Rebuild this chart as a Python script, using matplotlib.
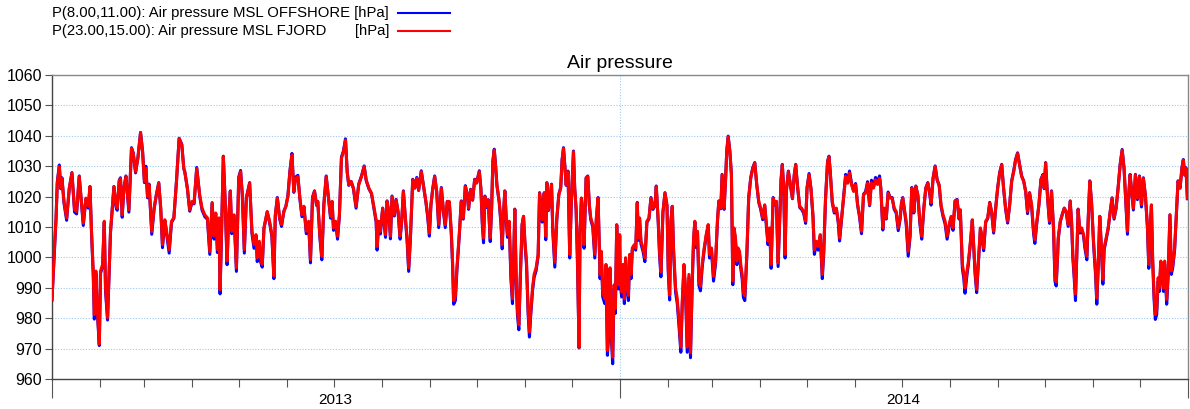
import matplotlib
matplotlib.use("Agg")
import matplotlib.pyplot as plt
import matplotlib.dates as mdates
import numpy as np
import pandas as pd
from matplotlib.lines import Line2D
from matplotlib.transforms import blended_transform_factory

plt.rcParams['font.family'] = ['Liberation Sans', 'DejaVu Sans']

# ---------------- data ----------------
start_date = "2013-01-01"
# time of each sample, days after start_date
days = [
 0.0,1.9,2.6,3.4,4.7,5.6,6.4,7.7,9.4,11.1,12.8,14.5,15.8,17.5,20.1,21.8,23.3,24.4,25.4,26.5,
 27.2,28.2,29.1,30.4,31.2,32.5,33.6,34.4,35.7,36.8,37.6,38.9,39.8,41.1,41.9,43.2,44.0,45.1,46.2,47.5,
 49.4,51.1,52.2,53.7,55.2,56.9,58.2,59.4,60.3,61.4,62.4,64.1,65.6,67.1,68.6,69.9,71.0,72.5,73.5,75.3,
 76.8,78.3,80.0,81.7,83.4,84.7,
 85.3,87.0,88.5,90.0,91.3,93.0,94.9,96.4,98.2,99.9,101.4,102.9,104.1,105.2,106.3,107.3,108.0,108.8,110.1,111.2,
 112.5,113.5,114.6,115.5,117.0,118.5,120.0,121.2,122.3,123.6,124.9,127.0,128.5,129.8,131.1,131.9,133.2,134.1,135.1,136.2,
 138.3,139.8,141.3,142.6,143.5,144.8,146.3,147.5,149.0,150.3,151.6,152.9,154.2,155.4,156.5,158.0,159.3,160.6,161.9,163.4,
 164.9,166.1,167.4,168.7,170.0,170.8,172.1,173.4,174.7,176.2,177.7,179.0,180.0,
 180.9,182.2,183.5,184.7,186.0,187.3,188.6,189.7,190.7,192.2,193.7,195.4,197.1,198.9,200.6,201.9,203.6,205.3,206.8,208.3,
 208.9,210.0,211.0,212.5,214.3,215.3,216.4,217.5,218.5,220.0,221.1,222.4,223.7,224.7,225.8,227.1,228.2,229.2,230.3,231.8,
 233.1,234.4,235.6,237.3,238.8,240.3,241.4,242.5,243.5,244.6,245.9,247.2,248.5,250.2,251.5,252.7,254.0,255.3,256.6,257.4,
 258.1,259.2,260.2,261.7,263.0,264.3,265.6,266.9,267.7,269.0,270.3,271.6,272.8,
 274.6,275.6,276.5,277.3,278.2,279.5,280.3,281.6,282.5,283.3,284.2,285.0,285.9,287.4,288.5,289.3,290.2,291.0,291.9,292.7,
 293.8,294.9,295.9,296.6,297.4,298.3,299.1,300.0,300.9,302.1,303.0,303.9,304.9,306.0,306.8,307.7,308.8,309.8,311.1,312.4,
 313.3,314.1,315.0,316.3,317.3,318.0,319.0,320.1,321.0,321.8,323.1,324.4,325.7,326.9,327.8,328.7,329.5,330.4,331.6,332.7,
 333.8,335.1,335.9,336.8,337.6,338.7,339.3,340.2,341.1,341.9,343.2,344.3,345.3,346.2,347.5,348.8,349.8,350.9,352.2,353.0,
 353.9,355.2,356.0,356.9,357.7,358.6,359.4,360.3,361.2,362.0,362.9,363.9,364.8,
 365.2,366.1,366.9,367.8,368.6,369.5,370.4,371.2,372.1,372.9,374.2,375.1,376.1,376.8,377.6,378.5,379.8,381.0,382.3,383.6,
 384.9,386.2,387.5,388.3,389.6,390.4,391.3,392.6,393.9,395.2,396.0,396.9,397.7,398.6,399.4,400.7,401.8,402.8,404.1,405.0,
 406.1,407.1,408.2,409.3,410.3,411.4,412.3,413.1,414.0,414.8,415.7,416.7,417.8,419.1,420.4,421.7,422.5,423.8,425.1,426.4,
 427.6,428.5,429.8,430.6,431.9,432.8,433.6,434.5,435.6,436.6,437.5,438.3,439.2,440.1,440.9,441.8,442.6,443.5,444.3,445.2,
 446.5,447.7,449.0,450.3,451.6,452.9,454.2,455.4,456.7,458.0,459.3,460.1,
 461.2,462.1,463.4,464.6,465.5,466.6,467.6,468.5,469.3,470.2,471.1,471.9,473.2,474.5,475.8,477.0,477.9,479.2,480.5,481.7,
 483.0,484.3,485.2,486.5,487.7,489.0,489.9,491.2,492.4,493.7,495.0,495.9,497.1,498.4,499.3,500.1,501.4,502.7,504.0,505.3,
 506.1,507.4,508.7,510.0,511.3,512.5,513.8,515.1,516.4,517.7,518.9,520.2,521.5,522.8,524.1,525.4,526.6,527.9,529.2,530.5,
 531.8,532.6,533.9,534.8,536.1,537.3,538.6,539.9,541.2,542.5,543.8,545.0,545.9,546.7,548.0,548.9,550.2,551.4,552.5,553.2,
 553.8,555.1,556.4,557.7,558.9,560.2,561.5,562.8,564.1,564.9,566.2,567.5,568.8,570.1,571.3,572.6,573.9,575.2,576.5,577.8,
 579.0,580.3,581.6,582.9,583.7,585.0,585.9,586.7,588.0,588.9,590.2,591.4,592.3,593.2,594.2,595.3,596.6,597.4,598.7,600.0,
 601.3,602.6,603.8,605.1,606.4,607.7,609.0,610.3,611.5,612.8,614.1,615.4,616.7,618.0,619.2,620.5,621.8,623.1,624.4,625.7,
 626.9,628.2,629.5,630.8,631.6,632.9,634.2,635.5,636.8,637.6,638.5,639.8,641.0,642.3,643.6,644.5,645.3,646.2,
 646.6,647.9,649.2,650.5,651.7,653.0,654.3,655.2,656.0,656.9,657.7,658.6,659.4,660.5,661.6,662.9,663.7,665.0,665.9,666.9,
 668.0,669.3,670.6,671.4,672.3,673.3,674.4,675.3,676.1,677.4,678.7,680.0,681.2,682.5,683.8,685.1,686.4,687.7,688.9,690.2,
 691.1,691.9,692.8,693.6,694.9,696.2,697.5,698.8,700.1,701.3,702.6,703.9,704.8,705.6,706.5,707.3,708.2,709.0,709.9,710.8,
 711.6,712.5,713.3,714.2,715.0,716.3,717.2,718.4,719.3,720.2,721.4,722.7,723.6,724.9,726.1,727.0,727.9,728.7,729.6,
]

# P(23.00,15.00): Air pressure MSL FJORD [hPa]
fjord = [
 986.2,1006.4,1013.0,1024.4,1029.9,1022.8,1026.0,1018.4,1013.0,1022.8,1027.7,1015.7,1015.1,1026.6,1011.3,1019.5,1016.8,1023.3,1008.6,995.5,
 981.2,995.5,983.4,971.5,995.5,997.7,1011.9,990.0,980.2,996.6,1008.6,1017.3,1023.3,1017.3,1016.2,1025.0,1026.0,1014.0,1022.8,1026.6,
 1015.7,1035.9,1034.2,1028.2,1032.6,1041.1,1034.8,1025.0,1029.3,1020.0,1023.9,1008.6,1016.2,1020.6,1024.4,1016.2,1004.2,1012.4,1009.1,1002.6,
 1011.9,1013.0,1025.0,1039.1,1037.0,1029.3,
 1028.2,1022.8,1015.7,1018.4,1017.9,1029.3,1020.6,1016.2,1014.0,1013.0,1002.0,1017.9,1007.0,1014.6,1002.6,1013.0,989.4,1005.3,1033.1,1019.5,
 998.8,1013.0,1021.7,1008.6,1014.0,996.6,1026.0,1028.2,1020.6,1002.6,1019.5,1024.4,1008.6,1004.2,1007.5,999.9,1005.3,999.9,997.7,1009.7,
 1015.1,1011.9,1007.5,993.9,1014.0,1019.5,1013.0,1010.8,1015.1,1016.8,1020.0,1028.2,1033.7,1021.7,1026.0,1026.6,1019.5,1014.0,1016.8,1008.6,
 1011.9,999.3,1019.5,1021.7,1017.3,1018.4,1007.5,1000.4,1017.3,1026.6,1019.5,1013.5,1018.4,
 1009.7,1011.9,1007.0,1014.0,1032.6,1034.8,1038.6,1028.2,1023.9,1025.0,1022.8,1016.8,1023.9,1026.6,1029.9,1025.5,1022.8,1021.1,1016.8,1012.4,
 1003.6,1011.9,1008.6,1016.2,1007.5,1018.4,1015.1,1007.0,1020.0,1014.0,1018.9,1015.1,1007.0,1011.9,1021.7,1013.0,1006.4,996.6,1006.4,1025.5,
 1022.8,1026.0,1022.2,1028.2,1023.3,1018.4,1014.0,1008.0,1017.3,1022.2,1026.6,1021.7,1010.8,1022.8,1015.7,1010.8,1018.4,1018.4,1008.6,998.8,
 985.8,987.3,996.6,1007.5,1018.4,1013.0,1023.3,1020.6,1016.2,1022.2,1019.0,1025.5,1024.4,
 1028.2,1022.8,1011.9,1006.4,1020.0,1016.8,1018.9,1006.4,1016.2,1031.5,1035.3,1030.4,1023.9,1018.4,1011.9,1004.2,1015.1,1021.7,1013.0,1007.5,
 1011.9,994.4,986.4,998.8,1015.7,993.3,982.5,977.8,993.3,1010.8,1013.5,1005.3,998.8,982.5,975.5,982.5,990.0,994.4,996.6,1001.0,
 1021.1,1017.9,1012.4,1021.1,1007.0,1024.4,1015.7,1019.5,1023.9,1009.7,998.4,1013.0,1020.6,1022.8,1032.0,1035.9,1030.4,1023.9,1028.2,1001.0,
 1019.5,1034.8,1022.8,1016.2,1001.0,970.4,1008.6,1019.5,1014.0,1004.2,1026.0,1026.6,1017.3,1013.0,1010.8,1001.0,1013.0,1019.5,994.4,1002.0,
 988.6,986.4,997.7,969.4,975.5,996.6,975.5,967.2,991.0,983.2,1010.8,991.0,1007.5,
 992.2,988.6,997.7,986.4,999.9,991.0,987.5,1001.0,994.4,1003.1,1004.2,1003.1,1017.9,1006.4,1013.0,1005.3,1003.1,999.9,1011.9,1013.0,
 1019.5,1016.2,1017.3,1023.3,1011.9,1002.0,995.2,1015.1,1021.1,1017.3,996.6,987.6,1011.9,1016.8,1003.1,990.0,986.4,979.8,970.5,985.7,
 997.7,990.0,970.5,994.4,968.6,992.2,1006.4,1011.9,1004.2,1008.6,992.2,990.5,997.7,1003.1,1007.5,1010.8,1001.0,1003.1,993.8,998.8,
 1011.9,1018.4,1016.2,1027.1,1016.2,1025.0,1034.8,1039.7,1034.8,1027.1,992.2,1009.7,1006.4,998.8,1003.1,1002.0,997.7,994.4,988.4,987.4,
 1001.0,1019.5,1026.0,1029.3,1031.0,1023.9,1018.4,1016.2,1013.0,1017.3,1009.7,1005.3,
 1009.7,997.7,1019.5,1017.3,1018.4,998.2,1011.9,1025.5,1030.4,1022.8,1001.0,1021.7,1028.2,1023.9,1019.5,1027.1,1030.4,1022.8,1016.8,1016.2,
 1015.1,1011.9,1022.8,1027.2,1022.8,1014.0,1002.5,1005.3,1003.6,1007.5,994.4,1002.0,1019.5,1031.5,1033.1,1028.2,1018.4,1015.1,1016.2,1011.9,
 1006.4,1013.0,1019.5,1026.7,1024.4,1027.7,1023.9,1021.7,1023.9,1017.3,1014.0,1008.6,1020.6,1021.1,1024.4,1017.3,1024.5,1022.8,1025.5,1024.0,
 1026.0,1022.8,1009.7,1016.2,1013.0,1021.1,1019.5,1019.5,1016.2,1015.1,1009.7,1013.0,1017.9,1019.5,1015.1,1011.9,1002.0,1007.5,1022.8,1020.6,
 1015.1,1023.3,1020.6,1011.9,1007.0,1016.2,1022.8,1024.4,1021.1,1017.9,1026.0,1029.9,1025.5,1023.9,1017.3,1014.0,1011.9,1007.0,1010.8,1013.5,
 1009.7,1018.4,1018.9,1013.0,1015.7,997.7,994.9,990.0,995.5,998.8,1005.3,1012.4,1004.2,995.5,989.5,998.8,1009.7,1007.5,1003.1,1011.9,
 1013.0,1017.9,1015.1,1008.6,1016.2,1022.8,1027.7,1030.4,1022.8,1016.2,1011.9,1017.3,1025.0,1028.2,1032.0,1034.2,1030.4,1026.6,1025.0,1021.7,
 1015.1,1021.1,1017.3,1008.6,1005.9,1011.9,1017.3,1025.5,1027.1,1022.8,1031.0,1019.5,1011.9,1021.7,1009.7,994.0,992.0,1001.0,
 1006.4,1011.9,1014.0,1016.2,1015.1,1010.8,1018.4,1011.9,1001.0,994.4,988.0,1002.0,1015.7,1008.6,1009.7,1007.5,1004.2,1000.4,1013.0,1025.0,
 1018.4,1005.3,995.5,986.6,997.7,1013.5,1003.1,992.8,1003.1,1006.4,1009.7,1015.1,1019.5,1013.0,1016.2,1022.8,1030.4,1035.3,1029.3,1017.3,
 1008.6,1020.6,1027.1,1022.8,1016.2,1027.1,1019.5,1026.6,1017.3,1026.0,1020.6,1010.8,997.7,1008.6,1017.3,999.9,987.9,981.2,982.9,993.3,
 990.0,998.8,997.7,990.0,998.8,986.2,994.4,1014.0,995.5,997.7,1003.1,1016.2,1025.0,1022.8,1029.3,1032.0,1027.1,1029.3,1019.5,
]

# P(8.00,11.00): Air pressure MSL OFFSHORE [hPa]
offshore = [
 986.0,1005.4,1012.6,1024.8,1030.4,1022.6,1026.2,1017.9,1012.2,1022.6,1027.9,1014.9,1014.3,1026.8,1010.5,1019.3,1016.2,1023.3,1007.8,994.2,
 979.7,994.6,982.0,971.0,994.8,997.0,1011.6,988.9,979.4,995.8,1008.2,1017.0,1023.3,1016.6,1015.5,1025.3,1026.2,1013.2,1022.8,1026.8,
 1014.9,1036.1,1034.4,1027.8,1032.8,1041.1,1035.0,1024.6,1030.0,1019.6,1024.1,1007.6,1015.8,1020.8,1024.6,1015.6,1003.2,1012.0,1008.4,1001.4,
 1011.5,1012.8,1025.2,1039.2,1037.2,1029.1,
 1028.3,1022.6,1015.2,1018.2,1017.6,1029.6,1020.2,1015.6,1013.4,1012.5,1001.0,1018.0,1006.0,1014.4,1001.6,1012.8,988.0,1004.6,1033.3,1019.3,
 997.6,1012.8,1021.9,1007.8,1013.8,995.4,1026.4,1028.6,1020.4,1001.4,1019.6,1024.6,1007.8,1003.0,1007.0,998.6,1004.8,998.4,996.8,1009.5,
 1014.9,1011.5,1006.8,993.0,1013.8,1019.7,1012.6,1010.2,1015.2,1016.8,1020.4,1028.5,1034.2,1021.4,1026.4,1027.0,1019.2,1013.4,1016.6,1007.8,
 1011.5,998.2,1019.8,1021.9,1017.1,1018.4,1006.8,999.2,1017.4,1026.8,1019.2,1012.9,1018.3,
 1008.9,1011.6,1006.0,1013.8,1033.0,1035.0,1039.0,1028.0,1023.7,1025.0,1022.6,1016.2,1024.1,1026.8,1030.1,1025.3,1022.6,1021.0,1016.2,1011.6,
 1002.4,1011.6,1007.7,1016.2,1006.6,1018.6,1014.8,1006.1,1020.2,1013.6,1019.1,1014.8,1006.0,1011.6,1021.9,1012.6,1005.3,995.4,1005.8,1025.7,
 1022.8,1026.3,1022.0,1028.5,1023.3,1018.0,1013.4,1007.0,1017.2,1022.4,1026.8,1021.6,1009.8,1023.0,1015.2,1009.8,1018.4,1018.2,1007.6,997.6,
 984.6,985.8,995.6,1007.0,1018.6,1012.6,1023.6,1020.5,1015.8,1022.4,1018.8,1025.7,1024.6,
 1028.5,1022.6,1011.0,1004.8,1020.2,1016.4,1019.0,1005.2,1016.0,1031.8,1035.6,1030.6,1023.7,1018.0,1011.0,1002.8,1015.0,1021.9,1012.4,1006.6,
 1011.5,993.0,984.8,998.0,1015.9,992.0,981.0,976.2,992.4,1010.8,1013.5,1004.6,997.6,981.0,973.8,981.4,989.0,993.4,995.6,1000.4,
 1021.3,1017.7,1011.6,1021.3,1005.8,1024.6,1015.4,1019.5,1024.1,1008.6,996.8,1012.6,1020.8,1023.0,1032.2,1036.1,1030.6,1023.7,1028.4,999.8,
 1019.5,1035.0,1022.6,1015.6,999.8,970.2,1008.0,1019.5,1013.4,1003.0,1026.2,1026.8,1017.0,1012.4,1010.0,999.8,1012.6,1019.7,993.0,1001.0,
 987.0,984.8,996.4,967.8,973.8,995.6,973.8,965.0,989.8,981.6,1010.6,989.6,1007.0,
 990.8,987.0,996.6,984.8,999.0,989.6,985.8,1000.2,993.0,1002.4,1003.4,1002.4,1018.1,1005.6,1012.4,1004.4,1002.0,998.6,1011.6,1012.6,
 1019.7,1015.8,1017.1,1023.5,1011.0,1000.8,993.6,1014.8,1021.3,1016.8,995.4,986.0,1011.6,1016.8,1002.0,988.6,984.8,978.2,968.8,984.4,
 996.6,988.6,968.8,993.4,967.0,991.0,1006.0,1011.6,1003.2,1008.2,990.8,989.0,996.6,1002.4,1007.0,1010.6,999.8,1002.2,992.2,997.8,
 1011.6,1018.6,1016.0,1027.3,1015.8,1025.2,1035.0,1039.9,1035.0,1027.3,991.0,1009.2,1005.6,997.6,1002.4,1001.0,996.4,993.0,986.8,985.8,
 1000.4,1019.7,1026.2,1029.5,1031.2,1023.7,1018.0,1015.8,1012.4,1017.1,1008.8,1004.2,
 1009.2,996.4,1019.7,1017.2,1018.4,997.0,1011.6,1025.7,1030.6,1022.6,999.8,1021.9,1028.4,1023.9,1019.3,1027.3,1030.6,1022.6,1016.4,1015.8,
 1014.6,1011.2,1023.0,1027.6,1022.6,1013.4,1001.0,1004.4,1002.4,1006.8,993.0,1001.0,1019.7,1031.7,1033.3,1028.2,1018.0,1014.6,1016.0,1011.2,
 1005.4,1012.6,1019.9,1027.3,1024.8,1028.4,1024.3,1022.0,1024.3,1017.1,1013.4,1007.8,1020.8,1021.6,1024.9,1017.0,1025.4,1023.2,1026.3,1024.8,
 1026.8,1022.8,1009.0,1016.0,1012.6,1021.5,1019.7,1019.7,1015.8,1014.6,1008.8,1012.6,1018.0,1019.7,1014.7,1011.0,1000.4,1006.8,1023.0,1020.6,
 1014.6,1023.5,1020.4,1011.0,1006.0,1015.8,1022.8,1024.6,1020.6,1017.2,1026.2,1030.1,1025.5,1023.6,1016.8,1013.4,1011.0,1006.0,1010.2,1013.2,
 1008.9,1018.6,1019.1,1012.6,1015.4,996.4,993.2,988.2,994.4,997.8,1004.8,1012.2,1003.2,994.4,988.4,998.0,1009.4,1006.8,1002.2,1011.6,
 1012.8,1018.1,1014.8,1008.0,1016.1,1023.0,1028.0,1030.6,1022.6,1015.8,1011.3,1017.3,1025.2,1028.5,1032.2,1034.4,1030.4,1026.8,1025.2,1021.6,
 1014.4,1021.3,1016.8,1007.6,1004.6,1011.6,1017.3,1025.7,1027.3,1022.6,1031.2,1019.3,1011.2,1021.9,1009.0,992.2,990.6,1000.2,
 1005.8,1011.6,1014.2,1016.2,1015.0,1010.2,1018.6,1011.2,999.8,993.0,985.8,1001.2,1015.9,1008.0,1009.4,1007.0,1003.2,999.2,1012.8,1025.2,
 1018.2,1004.4,994.2,984.6,996.6,1013.5,1002.2,991.2,1002.4,1005.8,1009.4,1015.0,1019.6,1012.6,1016.2,1023.0,1030.6,1035.5,1029.3,1016.8,
 1007.6,1020.6,1027.3,1022.6,1015.6,1027.3,1019.0,1026.8,1016.6,1026.2,1020.4,1010.0,996.4,1008.0,1017.1,998.4,986.2,979.6,981.2,992.2,
 988.8,997.8,996.6,988.8,997.8,984.6,993.2,1014.0,994.4,996.6,1002.4,1016.2,1025.2,1022.8,1029.5,1032.2,1027.1,1029.5,1019.3,
]

y_ticks = [960, 970, 980, 990, 1000, 1010, 1020, 1030, 1040, 1050, 1060]
year_labels = ["2013", "2014"]

title = "Air pressure"
label_offshore = "P(8.00,11.00): Air pressure MSL OFFSHORE [hPa]"
label_fjord = "P(23.00,15.00): Air pressure MSL FJORD"
unit_fjord = "[hPa]"

# ---------------- plot ----------------
t0 = pd.Timestamp(start_date)
times = t0 + pd.to_timedelta(np.asarray(days), unit="D")

W, H = 1190, 409
fig = plt.figure(figsize=(W / 100, H / 100), dpi=100)
ax = fig.add_axes([52 / W, 1 - 379 / H, (1188 - 52) / W, (379 - 75) / H])

ax.plot(times, offshore, color="#0000ff", lw=2.2, solid_joinstyle="round", zorder=3)
ax.plot(times, fjord, color="#ff0000", lw=2.2, solid_joinstyle="round", zorder=4)

ax.set_xlim(pd.Timestamp("2013-01-01"), pd.Timestamp("2015-01-01"))
ax.set_ylim(960, 1060)
ax.set_yticks(y_ticks)
ax.tick_params(axis="y", labelsize=11.5, length=5, width=0.8, color="#555555", pad=2)

ax.xaxis.set_major_locator(mdates.YearLocator())
ax.xaxis.set_minor_locator(mdates.MonthLocator())
ax.xaxis.set_major_formatter(plt.NullFormatter())
ax.tick_params(axis="x", which="major", length=14, width=0.8, color="#555555")
ax.tick_params(axis="x", which="minor", length=6, width=0.8, color="#555555")

trans = blended_transform_factory(ax.transData, ax.transAxes)
for lab in year_labels:
    mid = pd.Timestamp(f"{lab}-07-02")
    ax.text(mid, -0.045, lab, transform=trans, ha="center", va="top", fontsize=11)

ax.grid(True, axis="y", which="major", color="#9fc8ee", linestyle=(0, (1, 1.5)), lw=0.8)
ax.grid(True, axis="x", which="major", color="#9fc8ee", linestyle=(0, (1, 1.5)), lw=0.8)
ax.set_axisbelow(True)

for s in ["left", "bottom"]:
    ax.spines[s].set_color("#444444")
    ax.spines[s].set_linewidth(1.0)
for s in ["top", "right"]:
    ax.spines[s].set_color("#888888")
    ax.spines[s].set_linewidth(1.0)

ax.set_title(title, fontsize=14, pad=5)

# legend drawn as header rows
fig.text(52 / W, 1 - 13 / H, label_offshore, ha="left", va="center", fontsize=10.7)
fig.text(52 / W, 1 - 31 / H, label_fjord, ha="left", va="center", fontsize=10.7)
fig.text(389 / W, 1 - 31 / H, unit_fjord, ha="right", va="center", fontsize=10.7)
fig.add_artist(Line2D([398 / W, 450 / W], [1 - 13 / H, 1 - 13 / H], color="#0000ff", lw=1.5))
fig.add_artist(Line2D([398 / W, 450 / W], [1 - 31 / H, 1 - 31 / H], color="#ff0000", lw=1.5))

fig.savefig("out.png", dpi=100)
